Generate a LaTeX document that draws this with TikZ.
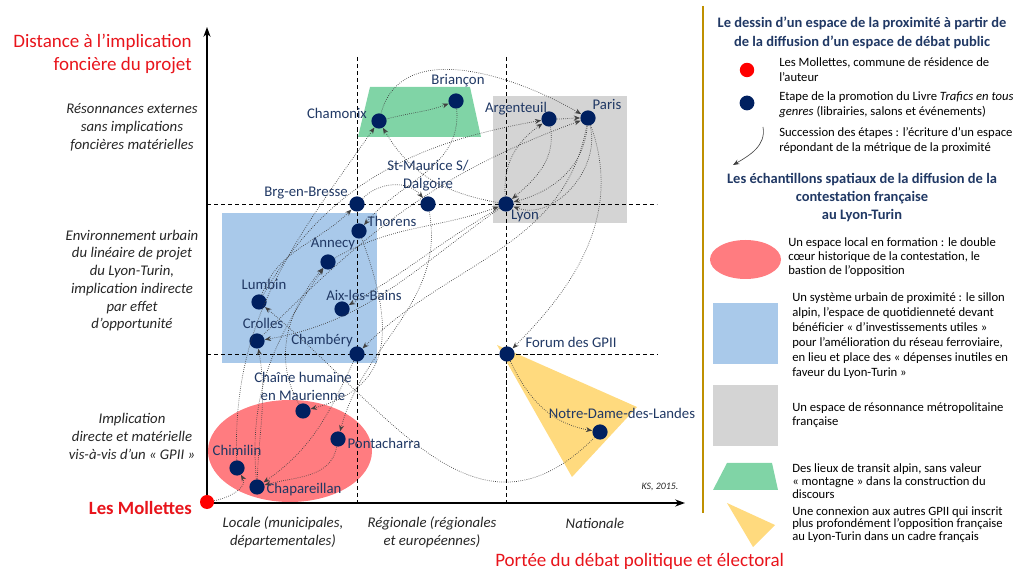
\documentclass[tikz,border=0pt]{standalone}
\usepackage{fontspec}
\setmainfont{Carlito}
\usetikzlibrary{arrows.meta}
\definecolor{navy}{HTML}{002060}
\definecolor{labc}{HTML}{203864}
\definecolor{redt}{HTML}{E8141B}
\definecolor{redfill}{HTML}{FF7C80}
\definecolor{bluefill}{HTML}{A9C9EA}
\definecolor{grayfill}{HTML}{D4D4D4}
\definecolor{greenfill}{HTML}{80D4A6}
\definecolor{yellowfill}{HTML}{FFDA7E}
\definecolor{gold}{HTML}{BF9000}
\definecolor{axtxt}{HTML}{262626}
\definecolor{conn}{HTML}{404040}
\tikzset{
  dot/.style={circle,fill=navy,inner sep=0pt,minimum size=0.38cm},
  reddot/.style={circle,fill=red,inner sep=0pt,minimum size=0.35cm},
  lab/.style={text=labc,font=\fontsize{10.5}{12.8}\selectfont,inner sep=0pt,align=center},
  axlab/.style={text=axtxt,font=\fontsize{10.5}{12.6}\selectfont\itshape,inner sep=0pt,align=center},
  redtitle/.style={text=redt,font=\fontsize{13.5}{16.4}\selectfont,inner sep=0pt},
  legtxt/.style={text=black,font=\fontsize{9}{10.6}\selectfont,inner sep=0pt,align=left,anchor=west},
  leghead/.style={text=labc,font=\fontsize{10.3}{13.4}\selectfont\bfseries,inner sep=0pt,align=center},
  guide/.style={densely dashed,line width=0.5pt,black},
  conarrow/.style={conn,densely dotted,line width=0.5pt,-{Stealth[length=4.5pt,width=3.5pt,conn]}},
}
\begin{document}
\begin{tikzpicture}[x=0.025cm,y=-0.025cm]
\useasboundingbox (0,0) rectangle (1013,569);
% coloured areas
\fill[redfill] (290,451) ellipse [x radius=82, y radius=51];
\fill[bluefill] (222,213) rectangle (377,363);
\fill[grayfill] (493,96) rectangle (627,223);
\fill[greenfill] (370,87) -- (470,87) -- (481,137) -- (358,137) -- cycle;
\fill[yellowfill] (497,345) -- (637,407) -- (572,477) -- cycle;
% guides
\draw[guide] (357,57) -- (357,503);
\draw[guide] (506,57) -- (506,503);
\draw[guide] (207,204) -- (657,204);
\draw[guide] (207,354) -- (658,354);
% axes
\coordinate (orig) at (207,503);
\coordinate (ytop) at (207,27);
\coordinate (xend) at (685,503);
\draw[line width=1.3pt,-{Stealth[length=7pt,width=5pt]}] (orig) -- (ytop);
\draw[line width=1.3pt,-{Stealth[length=7pt,width=5pt]}] (orig) -- (xend);
\node[reddot] (moll) at (207,502) {};
% dots
\node[dot] (cham) at (379,121) {};
\node[dot] (bria) at (456,101) {};
\node[dot] (arg) at (549,119) {};
\node[dot] (par) at (588,118) {};
\node[dot] (lyon) at (506,204) {};
\node[dot] (brg) at (357,204) {};
\node[dot] (stm) at (428,204) {};
\node[dot] (thor) at (359,231) {};
\node[dot] (ann) at (328,262) {};
\node[dot] (lumb) at (259,302) {};
\node[dot] (aix) at (342,309) {};
\node[dot] (crol) at (257,341) {};
\node[dot] (chy) at (357,354) {};
\node[dot] (chai) at (303,411) {};
\node[dot] (pont) at (338,439) {};
\node[dot] (chim) at (237,468) {};
\node[dot] (chap) at (257,487) {};
\node[dot] (forum) at (507,354) {};
\node[dot] (ndl) at (600,432) {};
% labels
\node[lab] (lcham) at (337,113) {Chamonix};
\node[lab] (lbria) at (458,81) {Briançon};
\node[lab] (larg) at (516,109) {Argenteuil};
\node[lab] (lpar) at (607,104) {Paris};
\node[lab] (lstm) at (428,176) {St-Maurice S/\\Dalgoire};
\node[lab] (lbrg) at (306,193) {Brg-en-Bresse};
\node[lab] (lthor) at (392,221) {Thorens};
\node[lab] (llyon) at (525,216) {Lyon};
\node[lab] (lann) at (333,244) {Annecy};
\node[lab] (llumb) at (264,284) {Lumbin};
\node[lab] (laix) at (364,295) {Aix-les-Bains};
\node[lab] (lcrol) at (263,323) {Crolles};
\node[lab] (lchy) at (322,341) {Chambéry};
\node[lab] (lchai) at (303,386) {Chaîne humaine\\en Maurienne};
\node[lab] (lpont) at (384,443) {Pontacharra};
\node[lab] (lchim) at (237,450) {Chimilin};
\node[lab] (lchap) at (304,490) {Chapareillan};
\node[lab] (lforum) at (571,342) {Forum des GPII};
\node[lab] (lndl) at (622,413) {Notre-Dame-des-Landes};
% connectors
\draw[conarrow] (moll) to[out=10,in=-60] (chim);
\draw[conarrow] (chim) to[out=92,in=235] (cham);
\draw[conarrow] (lumb) to[out=70,in=225] (brg);
\draw[conarrow] (chap) to[out=95,in=235] (ann);
\draw[conarrow] (chai) to[out=120,in=230] (ann);
\draw[conarrow] (chap) to[out=88,in=-80] (crol);
\draw[conarrow] (cham) to[out=15,in=200] (bria);
\draw[conarrow] (cham) to[out=75,in=150] (par);
\draw[conarrow] (bria) to[out=-85,in=50] (thor);
\draw[conarrow] (lyon) to[out=170,in=-60] (cham);
\draw[conarrow] (brg) to[out=45,in=130] (stm);
\draw[conarrow] (lumb) to[out=60,in=190] (arg);
\draw[conarrow] (crol) to[out=45,in=200] (par);
\draw[conarrow] (ann) to[out=30,in=200] (lyon);
\draw[conarrow] (lyon) to[out=210,in=30] (aix);
\draw[conarrow] (lyon) to[out=215,in=10] (crol);
\draw[conarrow] (par) to[out=-100,in=45] (chy);
\draw[conarrow] (par) to[out=-95,in=15] (lyon);
\draw[conarrow] (par) to[out=-75,in=-20] (lyon);
\draw[conarrow] (arg) to[out=-80,in=40] (lyon);
\draw[conarrow] (lyon) to[out=95,in=215] (arg);
\draw[conarrow] (arg) to[out=0,in=180] (par);
\draw[conarrow] (par) to[out=-70,in=45] (forum);
\draw[conarrow] (forum) to[out=-65,in=170] (ndl);
\draw[conarrow] (ndl) to[out=225,in=-40,looseness=1.2] (lumb);
\draw[conarrow] (chy) to[out=245,in=35] (chap);
\draw[conarrow] (stm) to[out=-80,in=75] (pont);
\draw[conarrow] (pont) to[out=-100,in=15] (chap);
\draw[conarrow] (thor) to[out=-70,in=15,looseness=1.3] (chai);
% axis texts
\node[redtitle,align=right,anchor=east] (ytitle) at (192,54) {Distance à l’implication\\foncière du projet};
\node[axlab] (yl1) at (132,127.5) {Résonnances externes\\sans implications\\foncières matérielles};
\node[axlab] (yl2) at (132,280.5) {Environnement urbain\\du linéaire de projet\\du Lyon-Turin,\\implication indirecte\\par effet\\d’opportunité};
\node[axlab] (yl3) at (132,436.5) {Implication\\directe et matérielle\\vis-à-vis d’un « GPII »};
\node[redtitle,font=\fontsize{13.3}{15}\selectfont\bfseries,anchor=east] (lmoll) at (192,508) {Les Mollettes};
\node[axlab] (xl1) at (283,532) {Locale (municipales,\\départementales)};
\node[axlab] (xl2) at (432,532) {Régionale (régionales\\et européennes)};
\node[axlab] (xl3) at (595,523) {Nationale};
\node[axlab,font=\fontsize{7}{8}\selectfont\itshape] (ks) at (660,487) {KS, 2015.};
\node[redtitle,anchor=west] (xtitle) at (495,561) {Portée du débat politique et électoral};
% legend
\coordinate (g1) at (703,6);
\coordinate (g2) at (703,513);
\draw[gold,line width=1.6pt] (g1) -- (g2);
\node[leghead] (h1) at (862,32.5) {Le dessin d’un espace de la proximité à partir de\\de la diffusion d’un espace de débat public};
\node[reddot,minimum size=0.36cm] (lg1) at (747,70) {};
\node[legtxt] (t1) at (779,70) {Les Mollettes, commune  de résidence de\\l’auteur};
\node[dot,minimum size=0.37cm] (lg2) at (747,103) {};
\node[legtxt] (t2) at (779,104.5) {Etape de la promotion  du Livre \textit{Trafics en tous}\\\textit{genres} (librairies, salons et événements)};
\coordinate (la1) at (763,127);
\coordinate (la2) at (733,165);
\draw[conn,line width=0.45pt,-{Stealth[length=4.5pt,width=3.5pt]}] (la1) to[out=-80,in=30] (la2);
\node[legtxt] (t3) at (779,141) {Succession des étapes : l’écriture d’un espace\\répondant  de la métrique de la proximité};
\node[leghead,font=\fontsize{10.3}{12.6}\selectfont\bfseries] (h2) at (862,197.5) {Les échantillons spatiaux de la diffusion de la\\contestation française\\au Lyon-Turin};
\fill[redfill] (745.5,259.5) ellipse [x radius=35.5, y radius=19.5];
\node[legtxt,font=\fontsize{9}{10}\selectfont] (t4) at (788,257) {Un espace local en formation : le double\\cœur historique de la contestation, le\\bastion de l’opposition};
\fill[bluefill] (713,303) rectangle (778,364);
\node[legtxt] (t5) at (792,335.5) {Un système urbain de proximité : le sillon\\alpin, l’espace de quotidienneté devant\\bénéficier « d’investissements utiles »\\pour l’amélioration du réseau ferroviaire,\\en lieu et place des « dépenses inutiles en\\faveur du Lyon-Turin »};
\fill[grayfill] (713,385) rectangle (778,446);
\node[legtxt,font=\fontsize{9}{10}\selectfont] (t6) at (792,415) {Un espace de résonnance métropolitaine\\française};
\fill[greenfill] (727,463) -- (772,463) -- (778,490) -- (713,490) -- cycle;
\node[legtxt,font=\fontsize{9}{9}\selectfont] (t7) at (792,481) {Des lieux de transit alpin, sans valeur\\« montagne » dans la construction du\\discours};
\fill[yellowfill] (727,503) -- (775,525) -- (753,547) -- cycle;
\node[legtxt,font=\fontsize{9}{8.9}\selectfont] (t8) at (792,524.5) {Une connexion aux autres GPII qui inscrit\\plus profondément  l’opposition française\\au Lyon-Turin dans un cadre français};
\end{tikzpicture}
\end{document}
